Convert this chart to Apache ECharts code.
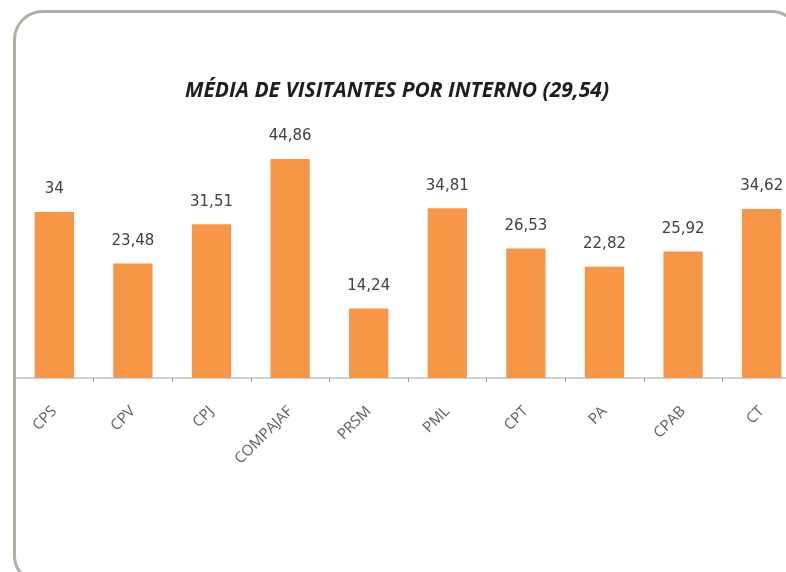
<!DOCTYPE html>
<html>
<head>
<meta charset="utf-8">
<script src="https://cdn.jsdelivr.net/npm/echarts@6/dist/echarts.min.js"></script>
<style>
html, body { margin: 0; padding: 0; background: #fff; }
#chart { width: 786px; height: 572px; }
</style>
</head>
<body>
<div id="chart"></div>
<script>
var categories = ['CPS', 'CPV', 'CPJ', 'COMPAJAF', 'PRSM', 'PML', 'CPT', 'PA', 'CPAB', 'CT'];
var values = [34, 23.48, 31.51, 44.86, 14.24, 34.81, 26.53, 22.82, 25.92, 34.62];
var titleText = 'MÉDIA DE VISITANTES POR INTERNO (29,54)';

var myChart = echarts.init(document.getElementById('chart'));

var option = {
	animation: false,
	backgroundColor: '#ffffff',
	title: {
		text: titleText,
		left: 392,
		top: 76,
		textAlign: 'center',
		textStyle: {
			fontFamily: 'Open Sans',
			fontSize: 21,
			fontWeight: 'bold',
			fontStyle: 'italic',
			color: '#1e1e1e'
		}
	},
	graphic: [{
		type: 'rect',
		shape: { x: 14.5, y: 11.5, width: 785, height: 572, r: 28 },
		style: { fill: 'none', stroke: '#b5aca4', lineWidth: 3 },
		z: 100
	}],
	grid: {
		left: 15,
		top: 134,
		width: 786,
		height: 244,
		outerBoundsMode: 'none'
	},
	xAxis: {
		type: 'category',
		data: categories,
		axisLine: { lineStyle: { color: '#c9d1db', width: 2 } },
		axisTick: { show: true, length: 4, lineStyle: { color: '#9a9a9a' } },
		axisLabel: {
			rotate: 45,
			margin: 31,
			fontFamily: 'Open Sans',
			fontSize: 15,
			color: '#5e5e5e',
			interval: 0
		}
	},
	yAxis: {
		type: 'value',
		min: 0,
		max: 50,
		show: false,
		splitLine: { show: false }
	},
	series: [{
		type: 'bar',
		data: values,
		barWidth: '50%',
		itemStyle: { color: '#f79646' },
		label: {
			show: true,
			position: 'top',
			distance: 15,
			fontFamily: 'DejaVu Sans',
			fontSize: 15,
			color: '#404040',
			formatter: function (p) {
				return String(p.value).replace('.', ',');
			}
		}
	}]
};

myChart.setOption(option);
</script>
</body>
</html>
